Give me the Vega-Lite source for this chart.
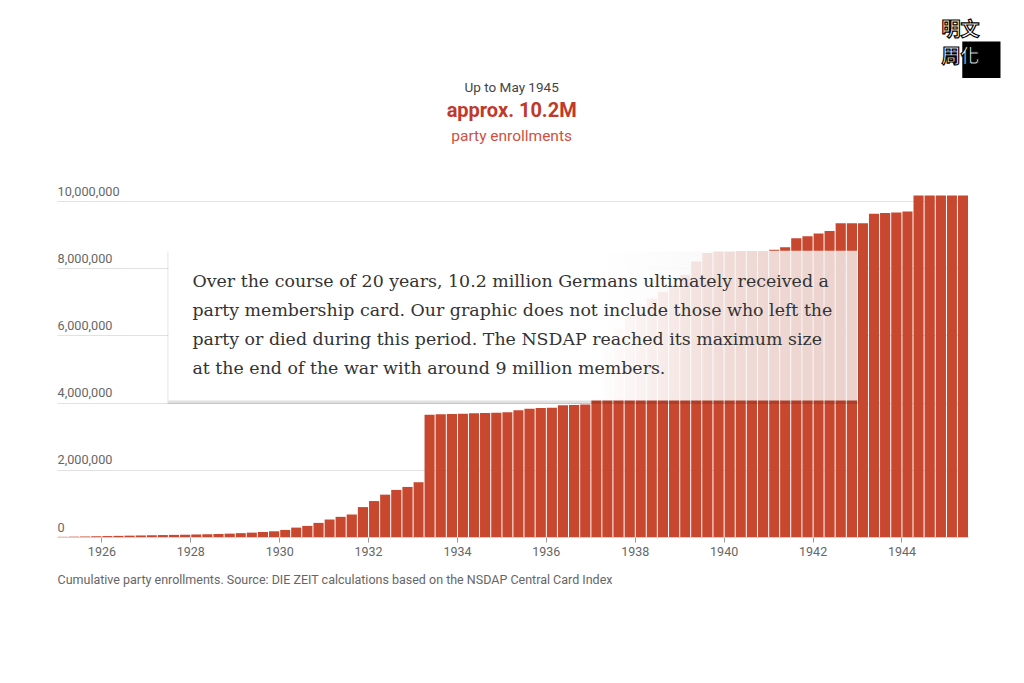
{
  "$schema": "https://vega.github.io/schema/vega-lite/v6.json",
  "width": 911,
  "height": 336,
  "autosize": {"type": "none"},
  "padding": {"left": 57, "top": 201, "right": 56, "bottom": 146},
  "background": "white",
  "config": {"view": {"stroke": null}, "font": "Roboto"},
  "datasets": {
    "enrollments": [
      {"quarter": "1925-01-01", "members": 5000},
      {"quarter": "1925-04-01", "members": 10000},
      {"quarter": "1925-07-01", "members": 15000},
      {"quarter": "1925-10-01", "members": 22000},
      {"quarter": "1926-01-01", "members": 28000},
      {"quarter": "1926-04-01", "members": 34000},
      {"quarter": "1926-07-01", "members": 40000},
      {"quarter": "1926-10-01", "members": 46000},
      {"quarter": "1927-01-01", "members": 52000},
      {"quarter": "1927-04-01", "members": 58000},
      {"quarter": "1927-07-01", "members": 63000},
      {"quarter": "1927-10-01", "members": 69000},
      {"quarter": "1928-01-01", "members": 75000},
      {"quarter": "1928-04-01", "members": 82000},
      {"quarter": "1928-07-01", "members": 90000},
      {"quarter": "1928-10-01", "members": 100000},
      {"quarter": "1929-01-01", "members": 115000},
      {"quarter": "1929-04-01", "members": 130000},
      {"quarter": "1929-07-01", "members": 150000},
      {"quarter": "1929-10-01", "members": 170000},
      {"quarter": "1930-01-01", "members": 210000},
      {"quarter": "1930-04-01", "members": 280000},
      {"quarter": "1930-07-01", "members": 330000},
      {"quarter": "1930-10-01", "members": 420000},
      {"quarter": "1931-01-01", "members": 520000},
      {"quarter": "1931-04-01", "members": 600000},
      {"quarter": "1931-07-01", "members": 670000},
      {"quarter": "1931-10-01", "members": 890000},
      {"quarter": "1932-01-01", "members": 1070000},
      {"quarter": "1932-04-01", "members": 1260000},
      {"quarter": "1932-07-01", "members": 1400000},
      {"quarter": "1932-10-01", "members": 1490000},
      {"quarter": "1933-01-01", "members": 1630000},
      {"quarter": "1933-04-01", "members": 3640000},
      {"quarter": "1933-07-01", "members": 3650000},
      {"quarter": "1933-10-01", "members": 3660000},
      {"quarter": "1934-01-01", "members": 3670000},
      {"quarter": "1934-04-01", "members": 3680000},
      {"quarter": "1934-07-01", "members": 3690000},
      {"quarter": "1934-10-01", "members": 3700000},
      {"quarter": "1935-01-01", "members": 3710000},
      {"quarter": "1935-04-01", "members": 3770000},
      {"quarter": "1935-07-01", "members": 3820000},
      {"quarter": "1935-10-01", "members": 3840000},
      {"quarter": "1936-01-01", "members": 3850000},
      {"quarter": "1936-04-01", "members": 3920000},
      {"quarter": "1936-07-01", "members": 3930000},
      {"quarter": "1936-10-01", "members": 3940000},
      {"quarter": "1937-01-01", "members": 4100000},
      {"quarter": "1937-04-01", "members": 5600000},
      {"quarter": "1937-07-01", "members": 6200000},
      {"quarter": "1937-10-01", "members": 6600000},
      {"quarter": "1938-01-01", "members": 6900000},
      {"quarter": "1938-04-01", "members": 7100000},
      {"quarter": "1938-07-01", "members": 7300000},
      {"quarter": "1938-10-01", "members": 7500000},
      {"quarter": "1939-01-01", "members": 7800000},
      {"quarter": "1939-04-01", "members": 8200000},
      {"quarter": "1939-07-01", "members": 8450000},
      {"quarter": "1939-10-01", "members": 8500000},
      {"quarter": "1940-01-01", "members": 8500000},
      {"quarter": "1940-04-01", "members": 8510000},
      {"quarter": "1940-07-01", "members": 8510000},
      {"quarter": "1940-10-01", "members": 8510000},
      {"quarter": "1941-01-01", "members": 8550000},
      {"quarter": "1941-04-01", "members": 8620000},
      {"quarter": "1941-07-01", "members": 8890000},
      {"quarter": "1941-10-01", "members": 8950000},
      {"quarter": "1942-01-01", "members": 9030000},
      {"quarter": "1942-04-01", "members": 9110000},
      {"quarter": "1942-07-01", "members": 9340000},
      {"quarter": "1942-10-01", "members": 9340000},
      {"quarter": "1943-01-01", "members": 9340000},
      {"quarter": "1943-04-01", "members": 9620000},
      {"quarter": "1943-07-01", "members": 9640000},
      {"quarter": "1943-10-01", "members": 9660000},
      {"quarter": "1944-01-01", "members": 9690000},
      {"quarter": "1944-04-01", "members": 10160000},
      {"quarter": "1944-07-01", "members": 10160000},
      {"quarter": "1944-10-01", "members": 10160000},
      {"quarter": "1945-01-01", "members": 10160000},
      {"quarter": "1945-04-01", "members": 10160000}
    ]
  },
  "layer": [
    {
      "data": {"name": "enrollments"},
      "mark": {"type": "bar", "color": "#c8472f", "timeUnitBandSize": 0.9},
      "encoding": {
        "x": {
          "field": "quarter",
          "timeUnit": "utcyearquarter",
          "type": "temporal",
          "scale": {
            "type": "utc",
            "domain": [
              {"year": 1925, "month": 1, "date": 1, "utc": true},
              {"year": 1945, "month": 7, "date": 1, "utc": true}
            ]
          },
          "axis": {
            "labelExpr": "utcFormat(datum.value, '%Y')",
            "values": [
              {"year": 1926, "month": 1, "date": 1, "utc": true},
              {"year": 1928, "month": 1, "date": 1, "utc": true},
              {"year": 1930, "month": 1, "date": 1, "utc": true},
              {"year": 1932, "month": 1, "date": 1, "utc": true},
              {"year": 1934, "month": 1, "date": 1, "utc": true},
              {"year": 1936, "month": 1, "date": 1, "utc": true},
              {"year": 1938, "month": 1, "date": 1, "utc": true},
              {"year": 1940, "month": 1, "date": 1, "utc": true},
              {"year": 1942, "month": 1, "date": 1, "utc": true},
              {"year": 1944, "month": 1, "date": 1, "utc": true}
            ],
            "grid": false,
            "domainColor": "#d0d0d0",
            "tickColor": "#999",
            "tickSize": 5,
            "labelPadding": 3,
            "labelFontSize": 12.5,
            "labelColor": "#666",
            "labelFont": "Roboto",
            "title": "Cumulative party enrollments. Source: DIE ZEIT calculations based on the NSDAP Central Card Index",
            "titleAnchor": "start",
            "titleAlign": "left",
            "titleFontSize": 12.5,
            "titleFontWeight": "normal",
            "titleColor": "#666",
            "titleFont": "Roboto",
            "titlePadding": 16
          }
        },
        "y": {
          "field": "members",
          "type": "quantitative",
          "scale": {"domain": [0, 10000000], "nice": false},
          "axis": {
            "values": [0, 2000000, 4000000, 6000000, 8000000, 10000000],
            "format": ",d",
            "grid": true,
            "gridColor": "#e2e2e2",
            "domain": false,
            "ticks": false,
            "tickSize": 0,
            "labelAlign": "left",
            "labelBaseline": "alphabetic",
            "labelOffset": -6,
            "labelPadding": 0,
            "labelFontSize": 12.7,
            "labelColor": "#666",
            "labelFont": "Roboto",
            "title": null
          }
        }
      }
    },
    {
      "data": {"values": [{}]},
      "mark": {"type": "rect", "color": "#000", "opacity": 0.12},
      "encoding": {
        "x": {"datum": {"year": 1927, "month": 6, "date": 28, "utc": true}, "type": "temporal"},
        "x2": {"datum": {"year": 1943, "month": 1, "date": 15, "utc": true}},
        "y": {"datum": 8500000, "type": "quantitative"},
        "y2": {"datum": 3960000}
      }
    },
    {
      "data": {"values": [{}]},
      "mark": {
        "type": "rect",
        "color": {
          "gradient": "linear",
          "x1": 0, "y1": 0, "x2": 1, "y2": 0,
          "stops": [
            {"offset": 0, "color": "rgba(255,255,255,1)"},
            {"offset": 0.62, "color": "rgba(255,255,255,1)"},
            {"offset": 0.8, "color": "rgba(255,255,255,0.82)"},
            {"offset": 1, "color": "rgba(255,255,255,0.76)"}
          ]
        }
      },
      "encoding": {
        "x": {"datum": {"year": 1927, "month": 7, "date": 5, "utc": true}, "type": "temporal"},
        "x2": {"datum": {"year": 1943, "month": 1, "date": 8, "utc": true}},
        "y": {"datum": 8520000, "type": "quantitative"},
        "y2": {"datum": 4060000}
      }
    },
    {
      "data": {"values": [{}]},
      "mark": {
        "type": "text",
        "align": "left",
        "baseline": "top",
        "font": "DejaVu Serif",
        "fontSize": 17.4,
        "lineHeight": 29,
        "color": "#333"
      },
      "encoding": {
        "x": {"datum": {"year": 1928, "month": 1, "date": 19, "utc": true}, "type": "temporal"},
        "y": {"datum": 7860000, "type": "quantitative"},
        "text": {
          "value": [
            "Over the course of 20 years, 10.2 million Germans ultimately received a",
            "party membership card. Our graphic does not include those who left the",
            "party or died during this period. The NSDAP reached its maximum size",
            "at the end of the war with around 9 million members."
          ]
        }
      }
    },
    {
      "data": {"values": [{}]},
      "mark": {"type": "text", "align": "center", "baseline": "middle", "fontSize": 13.5, "color": "#444", "font": "Roboto"},
      "encoding": {
        "x": {"datum": {"year": 1935, "month": 3, "date": 26, "utc": true}, "type": "temporal"},
        "y": {"datum": 13360000, "type": "quantitative"},
        "text": {"value": "Up to May 1945"}
      }
    },
    {
      "data": {"values": [{}]},
      "mark": {"type": "text", "align": "center", "baseline": "middle", "fontSize": 20, "fontWeight": "bold", "color": "#c0392b", "font": "Roboto"},
      "encoding": {
        "x": {"datum": {"year": 1935, "month": 3, "date": 26, "utc": true}, "type": "temporal"},
        "y": {"datum": 12680000, "type": "quantitative"},
        "text": {"value": "approx. 10.2M"}
      }
    },
    {
      "data": {"values": [{}]},
      "mark": {"type": "text", "align": "center", "baseline": "middle", "fontSize": 15.5, "color": "#d0503f", "font": "Roboto"},
      "encoding": {
        "x": {"datum": {"year": 1935, "month": 3, "date": 26, "utc": true}, "type": "temporal"},
        "y": {"datum": 11930000, "type": "quantitative"},
        "text": {"value": "party enrollments"}
      }
    },
    {
      "data": {"values": [{}]},
      "mark": {"type": "rect", "color": "#000"},
      "encoding": {
        "x": {"datum": {"year": 1945, "month": 5, "date": 15, "utc": true}, "type": "temporal"},
        "x2": {"datum": {"year": 1946, "month": 3, "date": 25, "utc": true}},
        "y": {"datum": 14750000, "type": "quantitative"},
        "y2": {"datum": 13660000}
      }
    },
    {
      "data": {"values": [{}]},
      "mark": {
        "type": "text",
        "align": "center",
        "baseline": "middle",
        "font": "Noto Sans CJK TC",
        "fontWeight": "bold",
        "fontSize": 19,
        "color": "white",
        "stroke": "black",
        "strokeWidth": 1.2
      },
      "encoding": {
        "x": {"datum": {"year": 1945, "month": 5, "date": 1, "utc": true}, "type": "temporal"},
        "y": {"datum": 15080000, "type": "quantitative"},
        "text": {"value": "明文"}
      }
    },
    {
      "data": {"values": [{}]},
      "mark": {
        "type": "text",
        "align": "center",
        "baseline": "middle",
        "font": "Noto Sans CJK TC",
        "fontWeight": "bold",
        "fontSize": 19,
        "color": "white",
        "stroke": "black",
        "strokeWidth": 1.2
      },
      "encoding": {
        "x": {"datum": {"year": 1945, "month": 5, "date": 1, "utc": true}, "type": "temporal"},
        "y": {"datum": 14300000, "type": "quantitative"},
        "text": {"value": "周化"}
      }
    }
  ]
}
